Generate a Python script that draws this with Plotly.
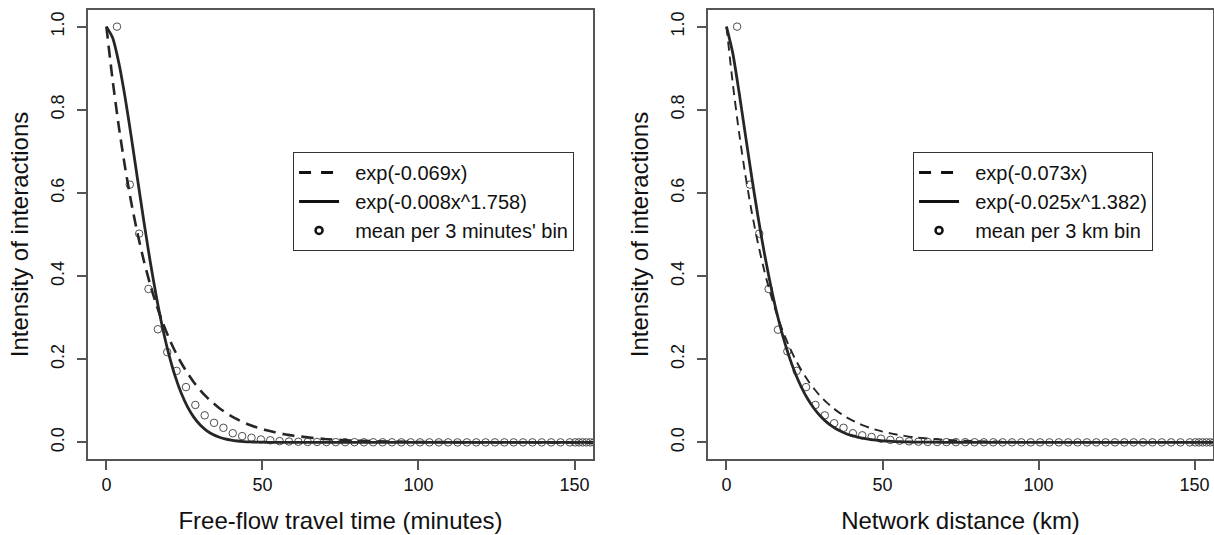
import plotly.graph_objects as go

# curve sample points
curve_x = [0, 2, 4, 6, 8, 10, 12, 14, 16, 18, 20, 22, 24, 26, 28, 30, 32, 34, 36, 38, 40,
           42, 44, 46, 48, 50, 52, 54, 56, 58, 60, 70, 80, 100, 120, 140, 156]

time_exp = [1.0, 0.8711, 0.7588, 0.6610, 0.5758, 0.5016, 0.4369, 0.3806, 0.3315, 0.2888, 0.2516,
            0.2191, 0.1909, 0.1663, 0.1448, 0.1262, 0.1099, 0.0957, 0.0834, 0.0727, 0.0633,
            0.0551, 0.0480, 0.0418, 0.0364, 0.0317, 0.0277, 0.0241, 0.0210, 0.0183, 0.0159,
            0.0080, 0.0040, 0.0010, 0.0003, 0.0001, 0.0]
time_pow = [1.0, 0.9733, 0.9125, 0.8298, 0.7337, 0.6324, 0.5319, 0.4369, 0.3509, 0.2758, 0.2123,
            0.1600, 0.1181, 0.0855, 0.0607, 0.0423, 0.0290, 0.0194, 0.0128, 0.0083, 0.0053,
            0.0033, 0.0020, 0.0012, 0.0007, 0.0004, 0.0002, 0.0001, 0.0001, 0.0, 0.0,
            0.0, 0.0, 0.0, 0.0, 0.0, 0.0]
dist_exp = [1.0, 0.8642, 0.7468, 0.6453, 0.5577, 0.4819, 0.4164, 0.3599, 0.3110, 0.2687, 0.2322,
            0.2007, 0.1734, 0.1499, 0.1295, 0.1119, 0.0967, 0.0836, 0.0722, 0.0624, 0.0539,
            0.0466, 0.0403, 0.0348, 0.0301, 0.0260, 0.0225, 0.0194, 0.0168, 0.0145, 0.0125,
            0.0060, 0.0029, 0.0007, 0.0002, 0.0, 0.0]
dist_pow = [1.0, 0.9369, 0.8438, 0.7427, 0.6424, 0.5474, 0.4606, 0.3832, 0.3154, 0.2573, 0.2080,
            0.1667, 0.1326, 0.1047, 0.0821, 0.0639, 0.0494, 0.0380, 0.0291, 0.0221, 0.0167,
            0.0126, 0.0094, 0.0070, 0.0052, 0.0038, 0.0028, 0.0020, 0.0015, 0.0011, 0.0008,
            0.0001, 0.0, 0.0, 0.0, 0.0, 0.0]

# binned means (circles)
bin_x = [3.4, 7.5, 10.5, 13.5, 16.5, 19.5, 22.5, 25.5, 28.5, 31.5, 34.5, 37.5, 40.5, 43.5,
         46.5, 49.5, 52.5, 55.5, 58.5, 61.5, 64.5, 67.5, 70.5, 73.5, 76.5, 79.5, 82.5, 85.5,
         88.5, 91.5, 94.5, 97.5, 100.5, 103.5, 106.5, 109.5, 112.5, 115.5, 118.5, 121.5,
         124.5, 127.5, 130.5, 133.5, 136.5, 139.5, 142.5, 145.5, 148.5,
         150.2, 151.4, 152.6, 153.8, 155.0, 156.2]
time_bin_mean = [1.0, 0.62, 0.502, 0.369, 0.272, 0.217, 0.172, 0.133, 0.090, 0.065, 0.047, 0.035,
                 0.022, 0.015, 0.011, 0.007, 0.005, 0.003, 0.002, 0.0015, 0.001, 0.001, 0.0008,
                 0.0006, 0.0005, 0.0004, 0.0003, 0.0003, 0.0002, 0.0002, 0.0001, 0.0001, 0.0001,
                 0.0, 0.0, 0.0, 0.0, 0.0, 0.0, 0.0, 0.0, 0.0, 0.0, 0.0, 0.0, 0.0, 0.0, 0.0, 0.0,
                 0.0, 0.0, 0.0, 0.0, 0.0, 0.0]
dist_bin_mean = [1.0, 0.62, 0.502, 0.369, 0.271, 0.219, 0.172, 0.133, 0.090, 0.065, 0.046, 0.035,
                 0.022, 0.017, 0.013, 0.009, 0.006, 0.004, 0.0024, 0.0016, 0.001, 0.0008, 0.0006,
                 0.0005, 0.0004, 0.0003, 0.0002, 0.0002, 0.0001, 0.0001, 0.0001, 0.0, 0.0,
                 0.0, 0.0, 0.0, 0.0, 0.0, 0.0, 0.0, 0.0, 0.0, 0.0, 0.0, 0.0, 0.0, 0.0, 0.0, 0.0,
                 0.0, 0.0, 0.0, 0.0, 0.0, 0.0]

x_ticks = [0, 50, 100, 150]
y_ticks = [0.0, 0.2, 0.4, 0.6, 0.8, 1.0]
y_tick_text = ["0.0", "0.2", "0.4", "0.6", "0.8", "1.0"]

panels = [
    {"axis": ("x", "y"), "legend": "legend", "exp": time_exp, "pow": time_pow, "bins": time_bin_mean,
     "names": ["exp(-0.069x)", "exp(-0.008x^1.758)", "mean per 3 minutes' bin"],
     "dash": "12px,7px", "dash_w": 2.6},
    {"axis": ("x2", "y2"), "legend": "legend2", "exp": dist_exp, "pow": dist_pow, "bins": dist_bin_mean,
     "names": ["exp(-0.073x)", "exp(-0.025x^1.382)", "mean per 3 km bin"],
     "dash": "9px,6px", "dash_w": 1.9},
]

INK = "#262626"
FONT = "Liberation Sans, Arial, sans-serif"
PAD = "\u00a0\u00a0"  # a little room between legend symbol and label, as in R's legend

fig = go.Figure()
for p in panels:
    xa, ya = p["axis"]
    fig.add_trace(go.Scatter(x=bin_x, y=p["bins"], xaxis=xa, yaxis=ya, mode="markers",
                             marker={"symbol": "circle-open", "size": 7.5, "color": "#4d4d4d",
                                     "line": {"width": 1, "color": "#4d4d4d"}},
                             showlegend=False))
    fig.add_trace(go.Scatter(x=curve_x, y=p["exp"], xaxis=xa, yaxis=ya, mode="lines",
                             line={"color": INK, "width": p["dash_w"], "dash": p["dash"],
                                   "shape": "spline", "smoothing": 0.6},
                             showlegend=False))
    fig.add_trace(go.Scatter(x=curve_x, y=p["pow"], xaxis=xa, yaxis=ya, mode="lines",
                             line={"color": INK, "width": 2.8, "shape": "spline", "smoothing": 0.6},
                             showlegend=False))
    # legend entries styled like the R legend
    fig.add_trace(go.Scatter(x=[None], y=[None], xaxis=xa, yaxis=ya, mode="lines", name=PAD + p["names"][0],
                             line={"color": "#111", "width": 3, "dash": "12px,10px"}, legend=p["legend"]))
    fig.add_trace(go.Scatter(x=[None], y=[None], xaxis=xa, yaxis=ya, mode="lines", name=PAD + p["names"][1],
                             line={"color": "#111", "width": 3}, legend=p["legend"]))
    fig.add_trace(go.Scatter(x=[None], y=[None], xaxis=xa, yaxis=ya, mode="markers", name=PAD + p["names"][2],
                             marker={"symbol": "circle-open", "size": 7, "color": "#111",
                                     "line": {"width": 2.5, "color": "#111"}},
                             legend=p["legend"]))

axis_common = dict(showline=True, mirror=True, linecolor="#555", linewidth=1.5,
                   ticks="outside", ticklen=9, tickwidth=1.5, tickcolor="#555",
                   showgrid=False, zeroline=False, tickfont={"size": 18, "color": "#111"},
                   title_font={"size": 24, "color": "#111"}, automargin=False)

legend_common = dict(bgcolor="white", bordercolor="#333", borderwidth=1,
                     font={"size": 20, "color": "#111"}, itemwidth=40,
                     yanchor="top", xanchor="left", y=0.684)

fig.update_layout(
    width=1214, height=535,
    margin={"l": 0, "r": 0, "t": 10, "b": 76},
    paper_bgcolor="white", plot_bgcolor="white",
    font={"family": FONT, "color": "#111"},
    xaxis=dict(axis_common, domain=[0.0722, 0.4887], range=[-6, 156], tickvals=x_ticks,
               title={"text": "Free-flow travel time (minutes)", "standoff": 18}, anchor="y"),
    yaxis=dict(axis_common, range=[-0.04, 1.04], tickvals=y_ticks, ticktext=y_tick_text,
               tickangle=-90, ticklabelstandoff=6,
               title={"text": "Intensity of interactions", "standoff": 12}, anchor="x"),
    xaxis2=dict(axis_common, domain=[0.5830, 0.9994], range=[-6, 156], tickvals=x_ticks,
                title={"text": "Network distance (km)", "standoff": 18}, anchor="y2"),
    yaxis2=dict(axis_common, range=[-0.04, 1.04], tickvals=y_ticks, ticktext=y_tick_text,
                tickangle=-90, ticklabelstandoff=6,
                title={"text": "Intensity of interactions", "standoff": 12}, anchor="x2"),
    legend=dict(legend_common, x=0.2414),
    legend2=dict(legend_common, x=0.7521),
)

# drop the browser's default body margin so the figure sits at the page origin
fig.write_html("out.html", config={"displayModeBar": False},
               post_script="document.body.style.margin='0';"
                           "document.documentElement.style.overflow='hidden';")
